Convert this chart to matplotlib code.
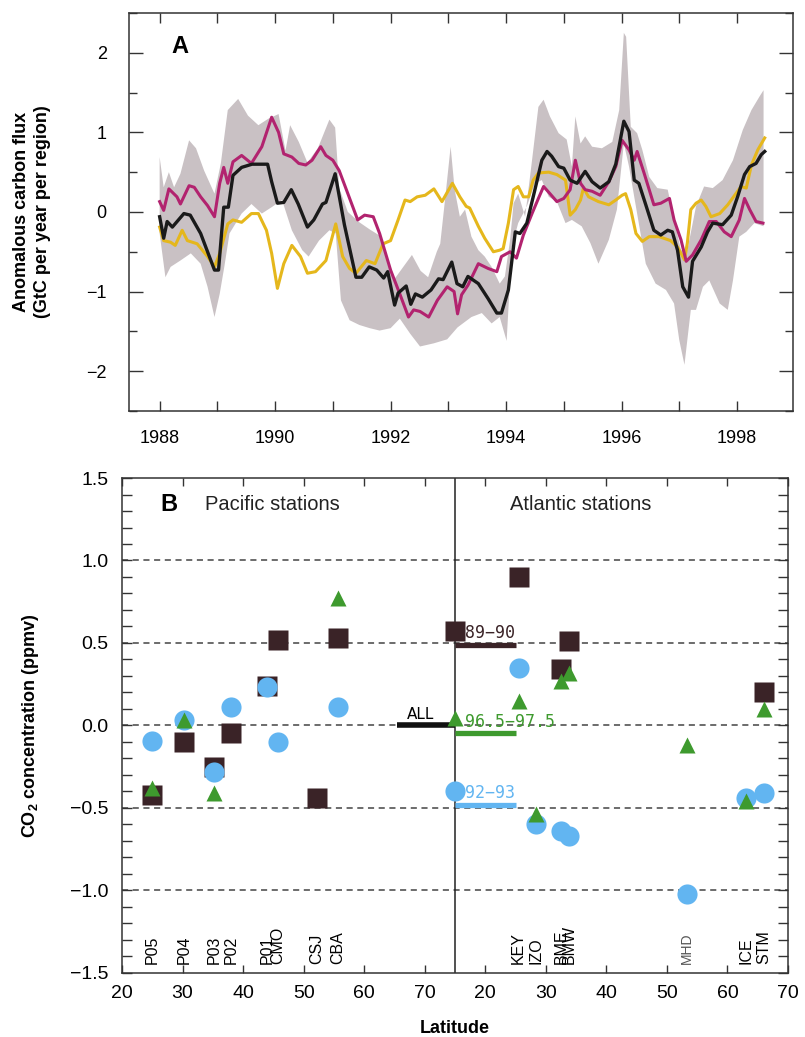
import matplotlib
matplotlib.use("Agg")
import matplotlib.pyplot as plt
import numpy as np
from matplotlib.ticker import MultipleLocator, FixedLocator, FuncFormatter

plt.rcParams["font.family"] = ["Liberation Sans", "DejaVu Sans"]
plt.rcParams["mathtext.fontset"] = "custom"
plt.rcParams["mathtext.rm"] = "Liberation Sans"
plt.rcParams["mathtext.bf"] = "Liberation Sans:bold"

# ---------------- panel A: anomalous carbon flux ----------------
black_t = [1988.00, 1988.07, 1988.13, 1988.22, 1988.42, 1988.53, 1988.71, 1988.95, 1989.02, 1989.11,
           1989.19, 1989.27, 1989.42, 1989.60, 1989.87, 1989.94, 1990.04, 1990.15, 1990.28, 1990.40,
           1990.56, 1990.67, 1990.82, 1990.88, 1991.04, 1991.20, 1991.40, 1991.50, 1991.63, 1991.76,
           1991.88, 1991.95, 1992.07, 1992.13, 1992.27, 1992.35, 1992.43, 1992.55, 1992.70, 1992.83,
           1992.91, 1993.06, 1993.15, 1993.25, 1993.34, 1993.52, 1993.69, 1993.84, 1993.92, 1994.04,
           1994.16, 1994.24, 1994.36, 1994.50, 1994.62, 1994.71, 1994.79, 1994.91, 1995.00, 1995.11,
           1995.23, 1995.37, 1995.49, 1995.63, 1995.78, 1995.90, 1996.04, 1996.13, 1996.22, 1996.30,
           1996.42, 1996.56, 1996.68, 1996.80, 1996.88, 1996.97, 1997.06, 1997.16, 1997.23, 1997.38,
           1997.49, 1997.58, 1997.75, 1997.90, 1998.01, 1998.13, 1998.22, 1998.33, 1998.42, 1998.48]
black_v = [-0.06, -0.33, -0.12, -0.19, -0.02, -0.04, -0.27, -0.73, -0.73, 0.06,
           0.06, 0.46, 0.56, 0.60, 0.60, 0.38, 0.11, 0.12, 0.28, 0.10,
           -0.19, -0.10, 0.10, 0.12, 0.48, -0.16, -0.82, -0.82, -0.69, -0.73,
           -0.83, -0.75, -1.17, -1.02, -0.93, -1.16, -1.03, -1.07, -0.98, -0.84,
           -0.85, -0.63, -0.90, -0.94, -0.81, -0.90, -1.09, -1.27, -1.27, -0.98,
           -0.25, -0.27, -0.14, 0.28, 0.65, 0.76, 0.70, 0.57, 0.55, 0.40,
           0.36, 0.51, 0.38, 0.30, 0.38, 0.60, 1.14, 1.01, 0.40, 0.36,
           0.09, -0.23, -0.29, -0.23, -0.25, -0.48, -0.94, -1.07, -0.62, -0.44,
           -0.25, -0.14, -0.16, -0.04, 0.19, 0.47, 0.57, 0.61, 0.72, 0.76]

magenta_t = [1988.00, 1988.07, 1988.16, 1988.30, 1988.36, 1988.51, 1988.60, 1988.71, 1988.83, 1988.95,
             1989.04, 1989.11, 1989.18, 1989.27, 1989.42, 1989.59, 1989.77, 1989.94, 1990.06, 1990.15,
             1990.29, 1990.41, 1990.53, 1990.64, 1990.79, 1990.88, 1991.00, 1991.11, 1991.26, 1991.43,
             1991.55, 1991.70, 1991.81, 1992.00, 1992.16, 1992.31, 1992.40, 1992.51, 1992.66, 1992.81,
             1992.98, 1993.10, 1993.16, 1993.23, 1993.34, 1993.52, 1993.69, 1993.84, 1993.92, 1994.07,
             1994.18, 1994.30, 1994.45, 1994.56, 1994.65, 1994.76, 1994.88, 1995.00, 1995.11, 1995.20,
             1995.29, 1995.37, 1995.49, 1995.63, 1995.78, 1995.90, 1996.01, 1996.13, 1996.22, 1996.27,
             1996.39, 1996.56, 1996.68, 1996.83, 1996.91, 1997.03, 1997.12, 1997.23, 1997.38, 1997.52,
             1997.64, 1997.78, 1997.90, 1998.04, 1998.13, 1998.22, 1998.33, 1998.45]
magenta_v = [0.13, 0.02, 0.29, 0.19, 0.10, 0.33, 0.31, 0.19, 0.08, -0.06,
             0.36, 0.56, 0.36, 0.63, 0.71, 0.61, 0.82, 1.19, 1.00, 0.73,
             0.69, 0.61, 0.59, 0.65, 0.82, 0.71, 0.65, 0.52, 0.23, -0.10,
             -0.04, -0.06, -0.27, -0.73, -1.03, -1.32, -1.23, -1.25, -1.32, -1.11,
             -0.94, -1.00, -1.28, -1.04, -0.92, -0.65, -0.71, -0.75, -0.56, -0.50,
             -0.58, -0.29, -0.02, 0.17, 0.32, 0.23, 0.13, 0.17, 0.28, 0.65,
             0.36, 0.28, 0.26, 0.21, 0.38, 0.57, 0.90, 0.78, 0.65, 0.76,
             0.49, 0.09, 0.11, 0.17, -0.10, -0.35, -0.62, -0.54, -0.35, -0.12,
             -0.12, -0.25, -0.31, -0.10, 0.17, 0.03, -0.12, -0.14]

yellow_t = [1988.00, 1988.07, 1988.19, 1988.27, 1988.39, 1988.48, 1988.65, 1988.83, 1988.95, 1989.04,
            1989.18, 1989.27, 1989.42, 1989.59, 1989.71, 1989.85, 1989.94, 1990.04, 1990.15, 1990.29,
            1990.44, 1990.56, 1990.70, 1990.88, 1991.05, 1991.17, 1991.29, 1991.40, 1991.58, 1991.73,
            1991.87, 1992.00, 1992.13, 1992.25, 1992.34, 1992.46, 1992.60, 1992.75, 1992.89, 1993.07,
            1993.20, 1993.31, 1993.37, 1993.52, 1993.63, 1993.78, 1993.89, 1993.95, 1994.04, 1994.13,
            1994.21, 1994.30, 1994.39, 1994.47, 1994.56, 1994.74, 1994.88, 1995.03, 1995.11, 1995.20,
            1995.29, 1995.34, 1995.43, 1995.60, 1995.78, 1995.90, 1996.01, 1996.07, 1996.16, 1996.25,
            1996.36, 1996.48, 1996.65, 1996.85, 1996.97, 1997.09, 1997.14, 1997.20, 1997.29, 1997.38,
            1997.46, 1997.55, 1997.70, 1997.84, 1997.98, 1998.07, 1998.16, 1998.25, 1998.36, 1998.48]
yellow_v = [-0.19, -0.36, -0.38, -0.42, -0.23, -0.36, -0.40, -0.56, -0.69, -0.52,
            -0.15, -0.10, -0.13, -0.02, -0.02, -0.23, -0.52, -0.96, -0.65, -0.42,
            -0.56, -0.77, -0.75, -0.61, -0.15, -0.56, -0.71, -0.77, -0.61, -0.65,
            -0.40, -0.36, -0.10, 0.15, 0.13, 0.19, 0.21, 0.29, 0.13, 0.36,
            0.19, 0.07, 0.05, -0.18, -0.33, -0.50, -0.48, -0.46, -0.14, 0.28,
            0.32, 0.19, 0.19, 0.40, 0.49, 0.50, 0.47, 0.40, -0.04, 0.03,
            0.15, 0.30, 0.19, 0.13, 0.09, 0.15, 0.21, 0.23, 0.03, -0.27,
            -0.37, -0.31, -0.31, -0.36, -0.44, -0.60, -0.39, 0.03, 0.11, 0.15,
            0.07, -0.06, -0.02, 0.09, 0.23, 0.32, 0.30, 0.59, 0.78, 0.93]

upper_t = [1988.00, 1988.07, 1988.16, 1988.25, 1988.36, 1988.51, 1988.63, 1988.77, 1988.95, 1989.06,
           1989.18, 1989.36, 1989.53, 1989.71, 1989.88, 1990.06, 1990.18, 1990.26, 1990.41, 1990.56,
           1990.74, 1990.94, 1991.04, 1991.11, 1991.26, 1991.46, 1991.64, 1991.84, 1991.96, 1992.07,
           1992.24, 1992.37, 1992.52, 1992.65, 1992.80, 1992.86, 1992.95, 1993.04, 1993.11, 1993.20,
           1993.29, 1993.40, 1993.52, 1993.63, 1993.75, 1993.89, 1993.98, 1994.07, 1994.13, 1994.21,
           1994.33, 1994.45, 1994.56, 1994.65, 1994.76, 1994.91, 1995.05, 1995.14, 1995.20, 1995.29,
           1995.37, 1995.49, 1995.66, 1995.84, 1995.96, 1996.04, 1996.08, 1996.16, 1996.27, 1996.36,
           1996.48, 1996.62, 1996.80, 1996.91, 1997.03, 1997.14, 1997.29, 1997.43, 1997.58, 1997.75,
           1997.93, 1998.10, 1998.25, 1998.39, 1998.46]
upper_v = [0.69, 0.31, 0.50, 0.31, 0.48, 0.90, 0.80, 0.52, 0.23, 0.61,
           1.28, 1.42, 1.21, 1.09, 1.17, 1.23, 0.77, 1.09, 0.88, 0.62,
           0.80, 1.16, 1.06, 0.30, 0.00, -0.13, -0.22, -0.31, -0.60, -0.84,
           -0.67, -0.54, -0.74, -0.82, -0.50, -0.40, 0.20, 0.82, 0.28, -0.06,
           0.03, -0.31, -0.48, -0.56, -0.69, -0.90, -0.81, -0.35, 0.11, 0.23,
           -0.06, 0.65, 1.32, 1.41, 1.20, 0.99, 0.91, 0.57, 1.20, 0.86,
           0.95, 0.82, 0.80, 0.88, 1.28, 2.25, 2.20, 1.07, 0.99, 0.78,
           0.44, 0.30, 0.28, -0.10, -0.48, -0.48, 0.07, 0.32, 0.30, 0.40,
           0.65, 1.03, 1.28, 1.45, 1.53]

lower_t = [1988.00, 1988.10, 1988.19, 1988.36, 1988.54, 1988.71, 1988.83, 1988.95, 1989.04, 1989.12,
           1989.21, 1989.42, 1989.59, 1989.77, 1989.94, 1990.12, 1990.29, 1990.47, 1990.58, 1990.76,
           1990.94, 1991.05, 1991.14, 1991.29, 1991.46, 1991.64, 1991.81, 1992.00, 1992.16, 1992.34,
           1992.51, 1992.75, 1992.98, 1993.16, 1993.40, 1993.58, 1993.75, 1993.89, 1994.01, 1994.10,
           1994.21, 1994.36, 1994.50, 1994.62, 1994.74, 1994.88, 1995.03, 1995.14, 1995.31, 1995.46,
           1995.60, 1995.78, 1995.92, 1996.04, 1996.13, 1996.27, 1996.42, 1996.59, 1996.77, 1996.91,
           1997.00, 1997.09, 1997.20, 1997.29, 1997.41, 1997.52, 1997.70, 1997.84, 1997.93, 1998.04,
           1998.16, 1998.30, 1998.46]
lower_v = [-0.27, -0.82, -0.69, -0.61, -0.52, -0.65, -0.94, -1.32, -1.03, -0.69,
           -0.27, -0.02, 0.10, -0.02, 0.06, 0.15, -0.23, -0.48, -0.56, -0.36,
           -0.23, -0.27, -1.11, -1.36, -1.42, -1.46, -1.49, -1.46, -1.34, -1.53,
           -1.69, -1.65, -1.60, -1.45, -1.32, -1.27, -1.40, -1.32, -1.62, -0.44,
           -0.14, 0.07, 0.36, 0.40, 0.19, 0.13, -0.14, -0.10, -0.18, -0.39,
           -0.65, -0.35, 0.03, 0.86, 0.57, -0.02, -0.65, -0.90, -0.98, -1.15,
           -1.61, -1.92, -1.23, -1.23, -0.94, -0.86, -1.15, -1.23, -0.86, -0.31,
           -0.25, -0.14, -0.18]

# ---------------- panel B: station CO2 anomalies ----------------
pac_names = ["P05", "P04", "P03", "P02", "P01", "CMO", "CSJ", "CBA"]
pac_lat = [25.0, 30.2, 35.2, 38.0, 44.0, 45.8, 52.2, 55.6]
pac_8990 = [-0.42, -0.10, -0.25, -0.045, 0.24, 0.52, -0.44, 0.53]
pac_9293 = [-0.095, 0.03, -0.28, 0.11, 0.23, -0.10, np.nan, 0.11]
pac_9697 = [-0.38, 0.03, -0.41, np.nan, np.nan, np.nan, np.nan, 0.77]

atl_names = ["KEY", "IZO", "BME", "BMW", "MHD", "ICE", "STM"]
atl_lat = [25.5, 28.3, 32.5, 33.9, 53.3, 63.1, 66.0]
atl_8990 = [0.90, np.nan, 0.34, 0.51, np.nan, np.nan, 0.20]
atl_9293 = [0.35, -0.60, -0.64, -0.67, -1.02, -0.44, -0.41]
atl_9697 = [0.15, -0.54, 0.27, 0.32, -0.12, -0.46, 0.10]

periods = ["89\u221290", "92\u221293", "96.5\u221297.5"]
period_marker_val = [0.57, -0.40, 0.045]   # markers drawn on the divider
period_mean_val = [0.49, -0.48, -0.045]    # horizontal bars
period_label_val = [0.56, -0.41, 0.02]
all_val = 0.0

ATL_SHIFT = 60  # Atlantic latitude 15 sits on the divider at 75

SQ_COL = "#3a2327"
CI_COL = "#62b5f1"
TR_COL = "#3e9a2e"
PERIOD_COLS = [SQ_COL, CI_COL, TR_COL]
PERIOD_MARKERS = ["s", "o", "^"]
PERIOD_SIZES = [14, 14.5, 12]


def panel_a(ax):
    ax.fill(np.concatenate([upper_t, lower_t[::-1]]),
            np.concatenate([upper_v, lower_v[::-1]]),
            color="#c9c1c4", lw=0, zorder=1)
    ax.plot(yellow_t, yellow_v, color="#e5b71c", lw=2.2, zorder=3)
    ax.plot(magenta_t, magenta_v, color="#b2236f", lw=2.2, zorder=4)
    ax.plot(black_t, black_v, color="#1a1a1a", lw=2.4, zorder=5)

    ax.set_xlim(1987.47, 1998.97)
    ax.set_ylim(-2.5, 2.5)
    ax.xaxis.set_major_locator(MultipleLocator(2))
    ax.xaxis.set_minor_locator(MultipleLocator(1))
    ax.yaxis.set_major_locator(MultipleLocator(1))
    ax.yaxis.set_minor_locator(MultipleLocator(0.5))
    ax.tick_params(axis="x", which="both", direction="in", top=True, length=7, width=1,
                   pad=14, labelsize=13, color="#333333")
    ax.tick_params(axis="y", which="major", direction="in", right=True, length=10, width=1,
                   pad=16, labelsize=13, color="#333333")
    ax.tick_params(axis="y", which="minor", direction="in", right=True, length=6, width=1,
                   color="#333333")
    ax.yaxis.set_major_formatter(FuncFormatter(lambda v, p: f"{v:.0f}".replace("-", "\u2212")))
    for sp in ax.spines.values():
        sp.set_color("#333333")
        sp.set_linewidth(1.1)

    ax.set_ylabel("Anomalous carbon flux\n(GtC per year per region)", fontsize=13,
                  fontweight="bold", linespacing=1.3, va="center")
    ax.yaxis.set_label_coords(-0.146, 0.5)
    ax.text(0.077, 0.915, "A", transform=ax.transAxes, fontsize=17, fontweight="bold",
            ha="center", va="center")


def panel_b(ax):
    ax.set_xlim(20, 130)
    ax.set_ylim(-1.5, 1.5)

    for y in [1.0, 0.5, 0.0, -0.5, -1.0]:
        ax.axhline(y, color="#444444", lw=1.1, ls=(0, (4, 3)), zorder=1)
    ax.axvline(75, color="#222222", lw=1.1, zorder=2)

    pac_sets = [pac_8990, pac_9293, pac_9697]
    atl_sets = [atl_8990, atl_9293, atl_9697]
    atl_x = np.array(atl_lat) + ATL_SHIFT
    for k in range(3):
        kw = dict(ls="none", marker=PERIOD_MARKERS[k], ms=PERIOD_SIZES[k],
                  color=PERIOD_COLS[k], mec="none", zorder=4 + k)
        ax.plot(pac_lat, pac_sets[k], **kw)
        ax.plot(atl_x, atl_sets[k], **kw)
        # divider marker, mean bar, label
        ax.plot([15 + ATL_SHIFT], [period_marker_val[k]], **kw)
        ax.plot([15 + ATL_SHIFT, 25 + ATL_SHIFT], [period_mean_val[k]] * 2,
                color=PERIOD_COLS[k], lw=3.8, solid_capstyle="butt", zorder=3)
        ax.text(16.6 + ATL_SHIFT, period_label_val[k], periods[k], color=PERIOD_COLS[k],
                family="DejaVu Sans Mono", fontsize=12, ha="left", va="center", zorder=8)

    ax.plot([65.4, 75], [all_val, all_val], color="#111111", lw=4, solid_capstyle="butt", zorder=3)
    ax.text(69.3, all_val + 0.065, "ALL", fontsize=11, family="DejaVu Sans",
            ha="center", va="center")

    for name, lat in zip(pac_names, pac_lat):
        ax.text(lat, -1.445, name, rotation=90, fontsize=11.5, ha="center", va="bottom")
    for name, lat in zip(atl_names, atl_lat):
        if name == "MHD":
            ax.text(lat + ATL_SHIFT, -1.445, name, rotation=90, fontsize=10, color="#555555",
                    ha="center", va="bottom")
        else:
            ax.text(lat + ATL_SHIFT, -1.445, name, rotation=90, fontsize=11.5,
                    ha="center", va="bottom")

    ticks = [20, 30, 40, 50, 60, 70, 80, 90, 100, 110, 120, 130]
    ax.xaxis.set_major_locator(FixedLocator(ticks))
    ax.set_xticklabels(["20", "30", "40", "50", "60", "70", "20", "30", "40", "50", "60", "70"])
    ax.yaxis.set_major_locator(MultipleLocator(0.5))
    ax.yaxis.set_minor_locator(MultipleLocator(0.1))
    ax.yaxis.set_major_formatter(FuncFormatter(lambda v, p: f"{v:.1f}".replace("-", "\u2212")))
    ax.tick_params(axis="x", which="both", direction="in", top=True, length=6, width=1,
                   pad=9, labelsize=14, color="#333333")
    ax.tick_params(axis="y", which="both", direction="in", right=True, length=7, width=1,
                   pad=10, labelsize=14, color="#333333")
    for sp in ax.spines.values():
        sp.set_color("#333333")
        sp.set_linewidth(1.1)

    ax.set_xlabel("Latitude", fontsize=13, fontweight="bold")
    ax.xaxis.set_label_coords(0.5, -0.112)
    ax.xaxis.label.set_va("center")
    ax.set_ylabel(r"CO$_\mathbf{2}$ concentration (ppmv)", fontsize=13, fontweight="bold",
                  va="center")
    ax.yaxis.set_label_coords(-0.138, 0.5)

    ax.text(0.071, 0.947, "B", transform=ax.transAxes, fontsize=17, fontweight="bold",
            ha="center", va="center")
    ax.text(0.125, 0.947, "Pacific stations", transform=ax.transAxes, fontsize=14.5,
            ha="left", va="center", color="#222222")
    ax.text(0.583, 0.947, "Atlantic stations", transform=ax.transAxes, fontsize=14.5,
            ha="left", va="center", color="#222222")


def main():
    fig = plt.figure(figsize=(8.05, 10.37), dpi=100)
    ax_a = fig.add_axes([0.1603, 0.6037, 0.8248, 0.3838])
    ax_b = fig.add_axes([0.1516, 0.0620, 0.8273, 0.4770])
    panel_a(ax_a)
    panel_b(ax_b)
    fig.savefig("out.png", dpi=100)
    plt.close(fig)


if __name__ == "__main__":
    main()
